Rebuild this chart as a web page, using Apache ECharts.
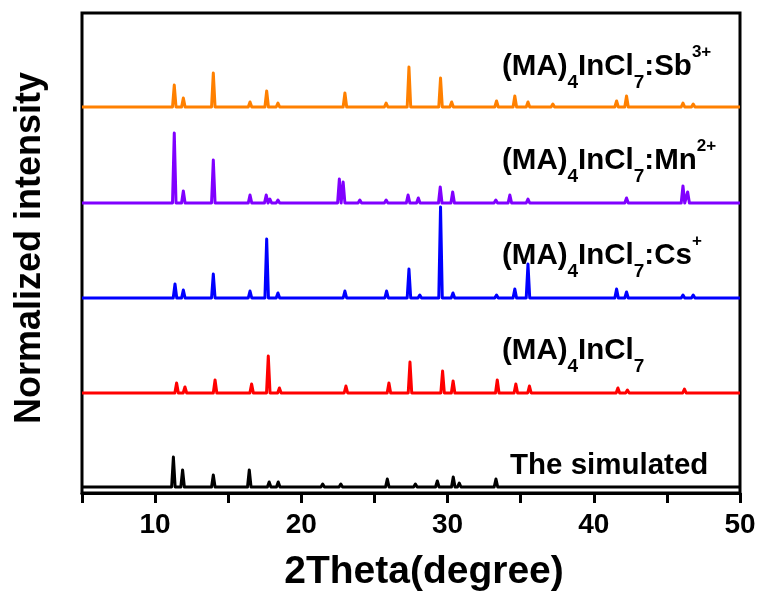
<!DOCTYPE html>
<html><head><meta charset="utf-8">
<script src="https://cdn.jsdelivr.net/npm/echarts@6/dist/echarts.min.js"></script>
<style>html,body{margin:0;padding:0;background:#fff}#c{width:761px;height:592px}</style>
</head><body><div id="c"></div>
<script>
// ---- data (2θ in degrees, peak height in normalized units) ----
const xTickLabels = [10, 20, 30, 40, 50];
const seriesNames = ['The simulated', '(MA)4InCl7', '(MA)4InCl7:Cs+', '(MA)4InCl7:Mn2+', '(MA)4InCl7:Sb3+'];
const simulatedPeaks = [[11.25,30],[11.88,17],[13.98,12],[16.44,17],[17.8,5],[18.42,5],[21.46,3],[22.7,3],[23.94,2],[25.88,8],[27.8,3],[29.3,6],[30.39,10],[30.8,4],[33.31,8],[36.2,1],[38.5,1],[41.6,2],[42.8,2],[44.3,1],[46.0,1],[48.0,1]];
const pristinePeaks = [[7.5,1],[11.47,10],[12.04,6],[14.1,13],[16.6,9],[17.74,37],[18.5,5],[21.6,2],[23.05,7],[25.99,10],[27.43,31],[29.66,22],[30.38,12],[33.4,13],[34.67,9],[35.6,7],[37.0,2],[38.0,2],[39.3,1],[41.65,5],[42.3,3],[46.2,4],[47.3,1]];
const csPeaks = [[7.3,1],[11.36,14],[11.93,8],[13.98,24],[16.49,7],[17.63,59],[18.4,5],[21.5,2],[22.98,7],[24.0,1],[25.83,7],[27.36,29],[28.1,3],[29.0,2],[29.52,91],[30.37,5],[33.35,3],[34.6,9],[35.5,34],[37.7,2],[41.56,9],[42.24,6],[46.1,3],[46.8,3]];
const mnPeaks = [[7.4,1],[11.31,70],[11.93,12],[13.98,43],[16.49,8],[17.6,8],[17.85,4],[18.4,3],[21.5,1],[22.6,24],[22.86,21],[24.0,3],[25.8,3],[27.3,8],[28.0,5],[29.5,16],[30.35,11],[33.3,3],[34.26,8],[35.5,4],[37.2,2],[42.24,5],[46.1,17],[46.42,11],[47.0,2]];
const sbPeaks = [[7.37,1],[11.31,22],[11.93,9],[13.98,34],[16.49,5],[17.63,16],[18.4,4],[20.8,2],[21.5,1],[22.98,14],[24.0,2],[25.8,4],[26.95,2],[27.36,40],[29.52,29],[30.28,5],[33.35,6],[34.6,11],[35.5,5],[37.2,3],[37.7,2],[41.56,6],[42.24,11],[46.1,4],[46.8,3]];

// ---- layout / style ----
const FONT = '"Liberation Sans", Arial, Helvetica, sans-serif';
const offsets = [6, 100, 195, 290, 386];
const colors = ['#000000', '#ff0000', '#0000ff', '#8000ff', '#ff8000'];
const HW = 0.12;
const allPeaks = [simulatedPeaks, pristinePeaks, csPeaks, mnPeaks, sbPeaks];

function profile(peaks, off) {
  const pts = [[5, off]];
  peaks.forEach(([p, h]) => { pts.push([p - HW, off], [p, off + h], [p + HW, off]); });
  pts.push([50, off]);
  return pts;
}

const cv = document.createElement('canvas').getContext('2d');
function tw(t, s) { cv.font = 'bold ' + s + 'px ' + FONT; return cv.measureText(t).width; }
const MAIN = 29.5, SUB = 19, SUP = 17;
function label(parts, x0, base) {
  const els = []; let x = x0;
  parts.forEach(([t, k]) => {
    const s = k === 'sub' ? SUB : k === 'sup' ? SUP : MAIN;
    const b = k === 'sub' ? base + 12 : k === 'sup' ? base - 19 : base;
    els.push({ type: 'text', x: x, y: b - 0.33 * s, z: 100,
      style: { text: t, fontSize: s, fontWeight: 'bold', fontFamily: FONT, fill: '#000', align: 'left', verticalAlign: 'middle' } });
    x += tw(t, s);
  });
  return els;
}
const graphics = [].concat(
  label([['(MA)','n'],['4','sub'],['InCl','n'],['7','sub'],[':Sb','n'],['3+','sup']], 502, 77),
  label([['(MA)','n'],['4','sub'],['InCl','n'],['7','sub'],[':Mn','n'],['2+','sup']], 502, 171),
  label([['(MA)','n'],['4','sub'],['InCl','n'],['7','sub'],[':Cs','n'],['+','sup']], 502, 266),
  label([['(MA)','n'],['4','sub'],['InCl','n'],['7','sub']], 502, 361),
  label([['The simulated','n']], 510, 476),
  [{ type: 'text', x: 424, y: 572, style: { text: '2Theta(degree)', fontSize: 39, fontWeight: 'bold', fontFamily: FONT, fill: '#000', align: 'center', verticalAlign: 'middle' } },
   { type: 'text', x: 30, y: 248, rotation: Math.PI / 2, style: { text: 'Normalized intensity', fontSize: 36, fontWeight: 'bold', fontFamily: FONT, fill: '#000', align: 'center', verticalAlign: 'middle' } }]
);

const chart = echarts.init(document.getElementById('c'), null, { renderer: 'canvas' });
chart.setOption({
  animation: false,
  backgroundColor: '#fff',
  grid: { left: 82, right: 21, top: 13, bottom: 99, show: true, borderColor: '#000', borderWidth: 3, backgroundColor: 'transparent' },
  xAxis: {
    type: 'value', min: 5, max: 50, interval: 5,
    axisLine: { show: true, lineStyle: { color: '#000', width: 3 } },
    axisTick: { show: true, inside: false, length: 10, lineStyle: { color: '#000', width: 3 } },
    axisLabel: { show: true, margin: 18, color: '#000', fontSize: 28, fontWeight: 'bold', fontFamily: FONT, showMaxLabel: true, showMinLabel: true,
      formatter: v => xTickLabels.indexOf(v) >= 0 ? String(v) : '' },
    splitLine: { show: false }
  },
  yAxis: {
    type: 'value', min: 0, max: 480,
    axisLine: { show: false }, axisTick: { show: false }, axisLabel: { show: false }, splitLine: { show: false }
  },
  series: allPeaks.map((pk, i) => ({
    name: seriesNames[i], type: 'line', data: profile(pk, offsets[i]), showSymbol: false, symbol: 'none',
    lineStyle: { color: colors[i], width: 3, join: 'round' }, itemStyle: { color: colors[i] }, z: 10 - i
  })),
  graphic: graphics
});
</script></body></html>
